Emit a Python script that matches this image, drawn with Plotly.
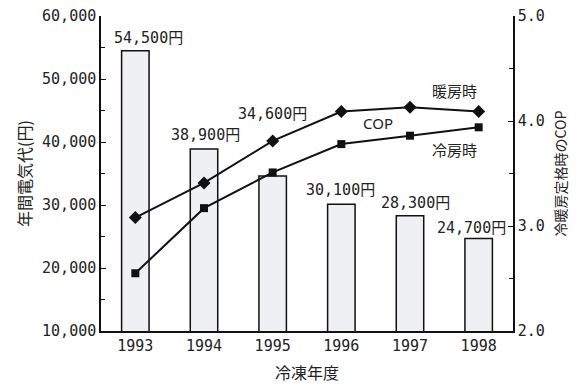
import plotly.graph_objects as go

# Fiscal years on the horizontal axis
years = ["1993", "1994", "1995", "1996", "1997", "1998"]

# Annual electricity cost (yen) – bars, left axis
annual_cost = [54500, 38900, 34600, 30100, 28300, 24700]
cost_labels = ["54,500円", "38,900円", "34,600円", "30,100円", "28,300円", "24,700円"]

# Rated COP – lines, right axis
cop_heating = [3.08, 3.41, 3.81, 4.09, 4.13, 4.09]
cop_cooling = [2.55, 3.17, 3.51, 3.78, 3.86, 3.94]

left_ticks = [10000, 20000, 30000, 40000, 50000, 60000]
left_ticktext = ["10,000", "20,000", "30,000", "40,000", "50,000", "60,000"]
right_ticks = [2.0, 3.0, 4.0, 5.0]
right_ticktext = ["2.0", "3.0", "4.0", "5.0"]

MONO = "DejaVu Sans Mono, Noto Sans CJK JP"
CJK = "Noto Sans CJK JP"
INK = "#222222"

xpos = list(range(len(years)))

fig = go.Figure()

fig.add_trace(go.Bar(
    x=xpos, y=annual_cost,
    marker=dict(color="#eff0f4", line=dict(color="#111111", width=1.5)),
    yaxis="y", showlegend=False,
))

fig.add_trace(go.Scatter(
    x=xpos, y=cop_heating, yaxis="y2", mode="lines+markers",
    line=dict(color="#111111", width=2),
    marker=dict(symbol="diamond", size=10, color="#111111"),
    showlegend=False,
))
fig.add_trace(go.Scatter(
    x=xpos, y=cop_cooling, yaxis="y2", mode="lines+markers",
    line=dict(color="#111111", width=2),
    marker=dict(symbol="square", size=8, color="#111111"),
    showlegend=False,
))

# value labels above bars (pixel nudges keep them clear of the lines)
label_shift = [(13, 13), (1, 14), (0, 62), (-1, 14), (5, 13), (-7, 10)]
for xp, val, txt, (dx, dy) in zip(xpos, annual_cost, cost_labels, label_shift):
    fig.add_annotation(
        x=xp, y=val, xref="x", yref="y", text=txt, showarrow=False,
        xshift=dx, yshift=dy, font=dict(family=MONO, size=15, color=INK),
    )

# series labels
for txt, px, py in [("暖房時", 0.859, 0.765), ("COP", 0.672, 0.660), ("冷房時", 0.859, 0.575)]:
    fig.add_annotation(
        x=px, y=py, xref="paper", yref="paper", text=txt, showarrow=False,
        xanchor="center", yanchor="middle",
        font=dict(family=CJK if txt != "COP" else "Noto Sans, " + CJK, size=15, color=INK),
    )

fig.update_layout(
    width=583, height=385,
    margin=dict(l=101, r=70, t=16, b=54),
    paper_bgcolor="white", plot_bgcolor="white",
    bargap=0.6,
    xaxis=dict(
        range=[-0.5, 5.5], tickvals=xpos, ticktext=years, automargin=False,
        showline=True, linecolor="#111111", linewidth=1.5,
        ticks="", showgrid=False, zeroline=False,
        tickfont=dict(family=MONO, size=15, color=INK),
        title=dict(text="冷凍年度", font=dict(family=CJK, size=16, color=INK), standoff=14),
    ),
    yaxis=dict(
        range=[10000, 60000], tickvals=left_ticks, ticktext=left_ticktext,
        automargin=False,
        showline=True, linecolor="#111111", linewidth=1.5, showgrid=False,
        ticks="inside", ticklen=5, tickcolor="#111111",
        minor=dict(dtick=5000, ticks="inside", ticklen=4, tickcolor="#111111"),
        tickfont=dict(family=MONO, size=15, color=INK),
        title=dict(text="年間電気代(円)", font=dict(family=CJK, size=16, color=INK), standoff=6),
        zeroline=False,
    ),
    yaxis2=dict(
        range=[2.0, 5.0], tickvals=right_ticks, ticktext=right_ticktext,
        overlaying="y", side="right", automargin=False,
        showline=True, linecolor="#111111", linewidth=1.5, showgrid=False,
        ticks="inside", ticklen=5, tickcolor="#111111",
        minor=dict(dtick=0.5, ticks="inside", ticklen=4, tickcolor="#111111"),
        tickfont=dict(family=MONO, size=15, color=INK),
        title=dict(text="冷暖房定格時のCOP", font=dict(family=CJK, size=14, color=INK), standoff=12),
        zeroline=False,
    ),
)

fig.write_html("out.html")
